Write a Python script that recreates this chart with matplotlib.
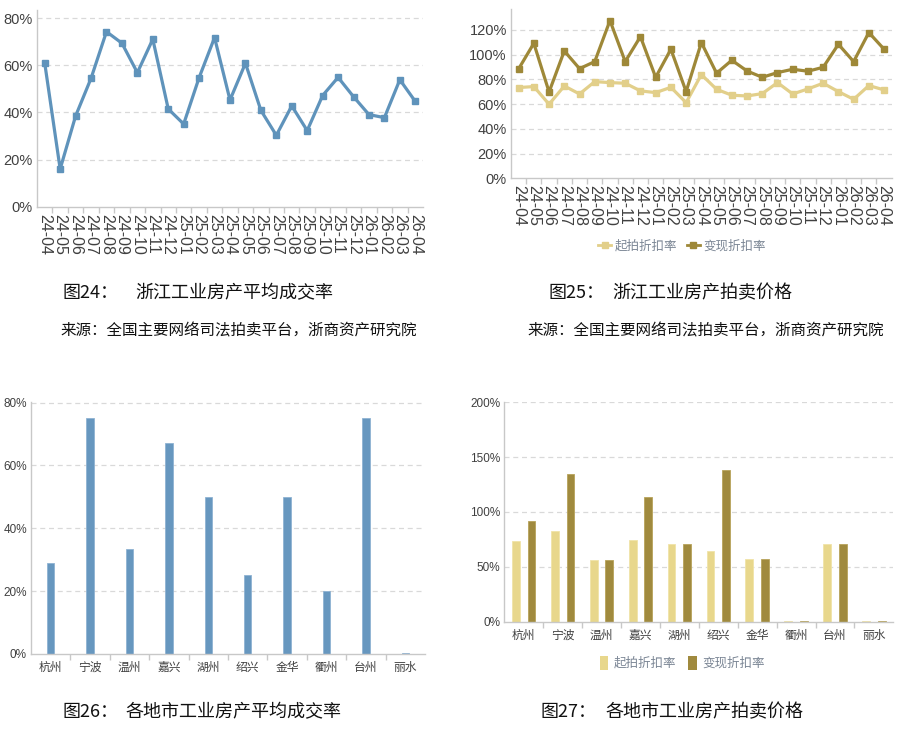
import matplotlib
matplotlib.use("Agg")
import matplotlib.pyplot as plt
from matplotlib import font_manager as fm
from matplotlib.lines import Line2D
from matplotlib.patches import Patch
import numpy as np

# ---------------- data ----------------
months = ["24-04", "24-05", "24-06", "24-07", "24-08", "24-09", "24-10", "24-11", "24-12",
          "25-01", "25-02", "25-03", "25-04", "25-05", "25-06", "25-07", "25-08", "25-09",
          "25-10", "25-11", "25-12", "26-01", "26-02", "26-03", "26-04"]
deal_rate = [61, 16, 38.5, 54.5, 74.3, 69.4, 56.9, 71.1, 41.5, 35.1, 54.8, 71.8, 45.3,
             60.9, 40.9, 30.3, 42.8, 32.3, 47.2, 54.9, 46.7, 39.1, 37.8, 53.9, 44.7]
start_disc = [73.4, 74.2, 59.9, 74.7, 68.2, 78.2, 77.4, 76.9, 70.7, 69.3, 73.6, 61.2, 83.9,
              72.0, 67.2, 66.6, 68.5, 77.4, 68.2, 72.3, 76.9, 70.1, 63.9, 75.0, 71.5]
real_disc = [88.5, 109.2, 69.8, 103.0, 88.7, 94.4, 127.6, 94.4, 114.6, 81.7, 104.4, 70.1, 109.8,
             85.0, 95.5, 86.8, 81.7, 85.5, 88.2, 86.6, 89.8, 108.4, 94.4, 117.9, 104.4]

cities = ["杭州", "宁波", "温州", "嘉兴", "湖州", "绍兴", "金华", "衢州", "台州", "丽水"]
city_rate = [28.9, 75.2, 33.5, 67.0, 50.1, 25.3, 50.1, 20.1, 75.2, 0.4]
city_start = [73.9, 82.4, 56.2, 74.5, 70.5, 64.1, 57.1, 0.4, 70.5, 0.4]
city_real = [91.6, 135.0, 56.2, 113.6, 70.5, 138.0, 57.1, 0.4, 70.5, 0.4]

series_names = ["起拍折扣率", "变现折扣率"]

# ---------------- fonts ----------------
def has_font(name):
    try:
        fm.findfont(fm.FontProperties(family=name), fallback_to_default=False)
        return True
    except Exception:
        return False

NARROW = "Liberation Sans Narrow" if has_font("Liberation Sans Narrow") else "Liberation Sans"
REG = "Liberation Sans"
CJK = ["Noto Sans CJK SC", "DejaVu Sans"]
plt.rcParams["font.family"] = [REG, "Noto Sans CJK SC", "DejaVu Sans"]

W, H = 900, 729
fig = plt.figure(figsize=(9, 7.29), dpi=100)

def ax_px(l, r, t, b):
    return fig.add_axes([l / W, 1 - b / H, (r - l) / W, (b - t) / H])

GRID = "#d9d9d9"
AXC = "#c8c8c8"
TXT = "#404040"
BLUE = "#5f93bb"
BAR_BLUE = "#6797bf"
LIGHT = "#e2cf8a"
DARK = "#9e8838"
LIGHT_B = "#e8d78c"
DARK_B = "#a08a3e"

def style(ax, ylim, yticks, n, tick_fs, tick_family):
    ax.set_xlim(-0.5, n - 0.5)
    ax.set_ylim(*ylim)
    ax.set_yticks(yticks)
    ax.set_yticklabels([f"{int(v)}%" for v in yticks], family=tick_family)
    for s in ["top", "right"]:
        ax.spines[s].set_visible(False)
    ax.spines["left"].set_color(AXC)
    ax.spines["bottom"].set_color(AXC)
    ax.spines["left"].set_linewidth(1)
    ax.spines["bottom"].set_linewidth(1)
    ax.tick_params(axis="y", length=0, labelsize=tick_fs, colors=TXT, pad=3)
    ax.set_xticks(np.arange(n - 1) + 0.5, minor=True)
    ax.tick_params(axis="x", which="minor", length=4, color=AXC, width=1)
    ax.tick_params(axis="x", which="major", length=0, colors=TXT)
    for v in yticks[1:]:
        ax.axhline(v, color=GRID, lw=0.9, ls=(0, (4, 3)), zorder=0)
    ax.set_axisbelow(True)

x_m = np.arange(len(months))
x_c = np.arange(len(cities))

# ---------------- chart 24 ----------------
ax1 = ax_px(37, 423, 10, 206.7)
style(ax1, (0, 83.5), [0, 20, 40, 60, 80], len(months), 10.5, REG)
ax1.plot(x_m, deal_rate, color=BLUE, lw=2.3, marker="s", ms=5, zorder=3)
ax1.set_xticks(x_m)
ax1.set_xticklabels(months, rotation=-90, fontsize=11.5, va="top", ha="center", family=REG)
ax1.tick_params(axis="x", which="major", pad=5)

# ---------------- chart 25 ----------------
ax2 = ax_px(511, 891.7, 9.3, 178.3)
style(ax2, (0, 136.7), [0, 20, 40, 60, 80, 100, 120], len(months), 10.5, REG)
ax2.plot(x_m, start_disc, color=LIGHT, lw=2.3, marker="s", ms=5, zorder=3)
ax2.plot(x_m, real_disc, color=DARK, lw=2.3, marker="s", ms=5, zorder=3)
ax2.set_xticks(x_m)
ax2.set_xticklabels(months, rotation=-90, fontsize=11.5, va="top", ha="center", family=REG)
ax2.tick_params(axis="x", which="major", pad=5)
h2 = [Line2D([0], [0], color=LIGHT, lw=2, marker="s", ms=5),
      Line2D([0], [0], color=DARK, lw=2, marker="s", ms=5)]
leg2 = fig.legend(h2, series_names, loc="center", bbox_to_anchor=(682 / W, 1 - 246 / H),
                  ncol=2, frameon=False, handlelength=1.0, handletextpad=0.3,
                  columnspacing=0.8, prop={"family": CJK, "size": 9})
for t in leg2.get_texts():
    t.set_color("#7a8594")

# ---------------- chart 26 ----------------
ax3 = ax_px(31, 425, 401.7, 654)
style(ax3, (0, 80.3), [0, 20, 40, 60, 80], len(cities), 8.5, NARROW)
ax3.bar(x_c, city_rate, width=0.19, color=BAR_BLUE, edgecolor="#8fb3d3", linewidth=0.6, zorder=2)
ax3.set_xticks(x_c)
ax3.set_xticklabels(cities, fontsize=8.5, family=CJK)
ax3.tick_params(axis="x", which="major", pad=5)

# ---------------- chart 27 ----------------
ax4 = ax_px(504.3, 893.3, 401.7, 621.7)
style(ax4, (0, 200.5), [0, 50, 100, 150, 200], len(cities), 8.5, NARROW)
ax4.bar(x_c - 0.2, city_start, width=0.2, color=LIGHT_B, edgecolor="#f0e4a8", linewidth=0.6, zorder=2)
ax4.bar(x_c + 0.2, city_real, width=0.2, color=DARK_B, edgecolor="#b8a35a", linewidth=0.6, zorder=2)
ax4.set_xticks(x_c)
ax4.set_xticklabels(cities, fontsize=8.5, family=CJK)
ax4.tick_params(axis="x", which="major", pad=5)
h4 = [Patch(facecolor=LIGHT_B, edgecolor="none"), Patch(facecolor=DARK_B, edgecolor="none")]
leg4 = fig.legend(h4, series_names, loc="center", bbox_to_anchor=(682 / W, 1 - 663 / H),
                  ncol=2, frameon=False, handlelength=0.7, handleheight=1.3, handletextpad=0.4,
                  columnspacing=1.0, prop={"family": CJK, "size": 9})
for t in leg4.get_texts():
    t.set_color("#7a8594")

# ---------------- captions ----------------
cap_kw = dict(family=CJK, fontsize=13, color="#111111", va="center", ha="left")
src_kw = dict(family=CJK, fontsize=11.2, color="#111111", va="center", ha="left")
fig.text(62 / W, 1 - 293 / H, "图24：", **cap_kw)
fig.text(135 / W, 1 - 293 / H, "浙江工业房产平均成交率", **cap_kw)
fig.text(548 / W, 1 - 293 / H, "图25：", **cap_kw)
fig.text(612 / W, 1 - 293 / H, "浙江工业房产拍卖价格", **cap_kw)
fig.text(60 / W, 1 - 331 / H, "来源：全国主要网络司法拍卖平台，浙商资产研究院", **src_kw)
fig.text(527 / W, 1 - 331 / H, "来源：全国主要网络司法拍卖平台，浙商资产研究院", **src_kw)
fig.text(62 / W, 1 - 712 / H, "图26：", **cap_kw)
fig.text(125 / W, 1 - 712 / H, "各地市工业房产平均成交率", **cap_kw)
fig.text(540 / W, 1 - 712 / H, "图27：", **cap_kw)
fig.text(605 / W, 1 - 712 / H, "各地市工业房产拍卖价格", **cap_kw)

fig.savefig("out.png", dpi=100, facecolor="white")
